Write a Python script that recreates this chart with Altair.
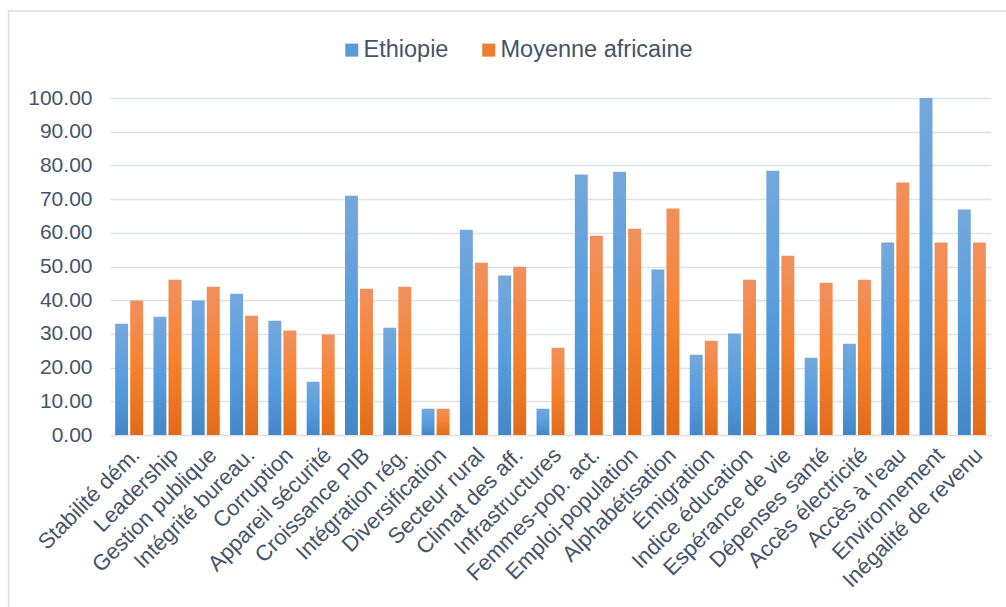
import altair as alt
import pandas as pd

# Indicator names (x axis)
categories = [
    "Stabilité dém.", "Leadership", "Gestion publique", "Intégrité bureau.",
    "Corruption", "Appareil sécurité", "Croissance PIB", "Intégration rég.",
    "Diversification", "Secteur rural", "Climat des aff.", "Infrastructures",
    "Femmes-pop. act.", "Emploi-population", "Alphabétisation", "Émigration",
    "Indice éducation", "Espérance de vie", "Dépenses santé", "Accès électricité",
    "Accès à l'eau", "Environnement", "Inégalité de revenu",
]

# Scores per series
ethiopie = [33.0, 35.1, 39.9, 41.9, 33.9, 15.8, 71.0, 31.8, 7.8, 60.9, 47.3, 7.8,
            77.3, 78.1, 49.1, 23.8, 30.1, 78.4, 22.9, 27.1, 57.1, 100.0, 66.9]
moyenne_africaine = [39.9, 46.1, 44.0, 35.4, 31.0, 29.8, 43.4, 44.0, 7.8, 51.1, 49.9, 25.9,
                     59.1, 61.2, 67.2, 28.0, 46.1, 53.2, 45.2, 46.1, 74.9, 57.1, 57.1]

series_names = ["Ethiopie", "Moyenne africaine"]
series_colors = ["#5b9bd5", "#ed7d31"]
y_ticks = [0, 10, 20, 30, 40, 50, 60, 70, 80, 90, 100]

rows = []
for cat, e, m in zip(categories, ethiopie, moyenne_africaine):
    rows.append({"cat": cat, "serie": series_names[0], "val": e})
    rows.append({"cat": cat, "serie": series_names[1], "val": m})
df = pd.DataFrame(rows)

TEXT = "#44546a"
GRID = "#dde1e8"
FONT = "Liberation Sans"

blue_grad = alt.Gradient(
    gradient="linear", x1=0, y1=0, x2=0, y2=1,
    stops=[alt.GradientStop(color="#74a8dc", offset=0),
           alt.GradientStop(color="#589ede", offset=0.5),
           alt.GradientStop(color="#4487c6", offset=1)],
)
orange_grad = alt.Gradient(
    gradient="linear", x1=0, y1=0, x2=0, y2=1,
    stops=[alt.GradientStop(color="#f1905e", offset=0),
           alt.GradientStop(color="#f5822f", offset=0.5),
           alt.GradientStop(color="#e26b19", offset=1)],
)

x_enc = alt.X(
    "cat:N", sort=categories, title=None,
    scale=alt.Scale(paddingInner=0.27, paddingOuter=0.135),
    axis=alt.Axis(labelAngle=-45, labelFontSize=22, labelColor=TEXT, labelFont=FONT,
                  labelPadding=9, ticks=False, domainColor=GRID, domainWidth=1.5,
                  grid=False, labelLimit=300),
)
y_enc = alt.Y(
    "val:Q", title=None,
    scale=alt.Scale(domain=[0, 100], nice=False),
    axis=alt.Axis(values=y_ticks, format=".2f", labelFontSize=21, labelColor=TEXT,
                  labelFont=FONT, labelPadding=18, ticks=False, domain=False,
                  gridColor=GRID, gridWidth=1.5),
)
xoff_enc = alt.XOffset(
    "serie:N", scale=alt.Scale(domain=series_names, paddingInner=0.14, paddingOuter=0)
)

base = alt.Chart(df)

bars_eth = base.transform_filter(alt.datum.serie == series_names[0]).mark_bar(
    fill=blue_grad
).encode(x=x_enc, y=y_enc, xOffset=xoff_enc)

bars_afr = base.transform_filter(alt.datum.serie == series_names[1]).mark_bar(
    fill=orange_grad
).encode(x=x_enc, y=y_enc, xOffset=xoff_enc)

# Invisible points that carry the legend
legend_layer = base.mark_point(shape="square", filled=True, opacity=0).encode(
    x=x_enc, y=y_enc,
    color=alt.Color(
        "serie:N",
        scale=alt.Scale(domain=series_names, range=series_colors),
        legend=alt.Legend(
            title=None, orient="none", direction="horizontal",
            legendX=230, legendY=-60,
            symbolType="square", symbolSize=169, symbolOpacity=1, symbolStrokeWidth=0,
            labelFontSize=23.5, labelColor=TEXT, labelFont=FONT, labelOffset=0,
            labelLimit=400, columnPadding=28,
        ),
    ),
)

# Thin frame around the chart
frame_df = pd.DataFrame({"k": [0]})
frame = alt.Chart(frame_df).mark_rect(
    fill=None, stroke="#d9dee6", strokeWidth=1.5
).encode(
    x=alt.value(-101.5), x2=alt.value(905), y=alt.value(-87), y2=alt.value(525)
)

chart = alt.layer(frame, bars_eth, bars_afr, legend_layer).properties(
    width=881, height=337,
    padding={"left": 110, "top": 98, "right": 15, "bottom": 172},
    autosize=alt.AutoSizeParams(type="none"),
    background="white",
).configure_view(stroke=None)

chart.save("out.html", embed_options={"renderer": "svg", "actions": False})
